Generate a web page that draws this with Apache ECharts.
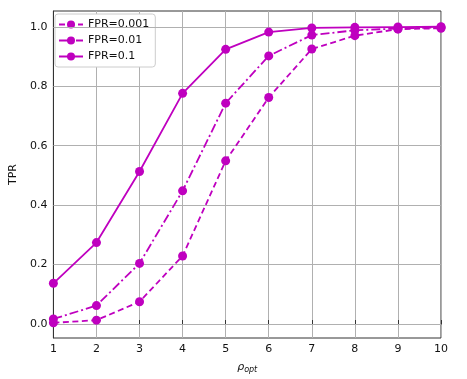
<!DOCTYPE html>
<html><head><meta charset="utf-8">
<script src="https://cdn.jsdelivr.net/npm/echarts@6/dist/echarts.min.js"></script>
<style>html,body{margin:0;padding:0;background:#fff}#c{width:467px;height:379px}</style>
</head><body><div id="c"></div>
<script>
const xValues = [1,2,3,4,5,6,7,8,9,10];
const fpr0001 = [0.004,0.013,0.075,0.229,0.549,0.762,0.925,0.970,0.992,0.995];
const fpr001 = [0.017,0.062,0.204,0.448,0.743,0.902,0.972,0.988,0.994,0.998];
const fpr01 = [0.137,0.274,0.513,0.776,0.924,0.982,0.996,0.998,0.999,1.0];
const seriesNames = ['FPR=0.001','FPR=0.01','FPR=0.1'];
const yTicks = [0.0,0.2,0.4,0.6,0.8,1.0];
const color = '#bf00bf';
const font = 'DejaVu Sans';

function mk(name, vals, type){
  return {
    name, type:'line', data: xValues.map((x,i)=>[x, vals[i]]),
    symbol:'circle', symbolSize:9, color,
    itemStyle:{color},
    lineStyle:{color, width:1.8, type},
    z:5
  };
}
const chart = echarts.init(document.getElementById('c'), null, {renderer:'canvas'});
const series = [
  mk(seriesNames[0], fpr0001, [6,3.5]),
  mk(seriesNames[1], fpr001, [9,3,2,3]),
  mk(seriesNames[2], fpr01, 'solid'),
  {type:'line', data:[], silent:true, z:1,
   markLine:{silent:true, symbol:'none', label:{show:false},
     lineStyle:{color:'#b0b0b0', type:'solid', width:1},
     data: yTicks.map(v=>({yAxis:v}))}}
];
chart.setOption({
  animation:false,
  textStyle:{fontFamily:font},
  grid:{left:52, right:26, top:11, bottom:34, show:true, borderColor:'#333', borderWidth:1, backgroundColor:'transparent'},
  legend:{
    data: seriesNames, orient:'vertical', left:55, top:14,
    backgroundColor:'#fff', borderColor:'#ccc', borderWidth:1, borderRadius:3,
    padding:[5,6,5,3], itemGap:5, itemWidth:24, itemHeight:10,
    textStyle:{fontFamily:font, fontSize:11, color:'#111'}
  },
  xAxis:{
    type:'value', min:1, max:10, interval:1,
    axisLine:{lineStyle:{color:'#333'}},
    axisTick:{inside:true, length:4, lineStyle:{color:'#333'}},
    axisLabel:{color:'#111', fontSize:11, fontFamily:font, margin:6},
    splitLine:{show:true, lineStyle:{color:'#b0b0b0', width:1}},
    name:'{a|ρ}{b|opt}', nameLocation:'middle', nameGap:22,
    nameTextStyle:{rich:{a:{fontSize:11, fontFamily:font, color:'#111', fontStyle:'italic'}, b:{fontSize:8, fontFamily:font, color:'#111', fontStyle:'italic', padding:[6,0,0,0]}}}
  },
  yAxis:{
    type:'value', min:-0.047, max:1.053,
    axisLine:{show:true, lineStyle:{color:'#333'}},
    axisTick:{show:true, inside:true, length:4, lineStyle:{color:'#333'}, customValues: yTicks},
    axisLabel:{color:'#111', fontSize:11, fontFamily:font, margin:6, customValues: yTicks, formatter:v=>v.toFixed(1)},
    splitLine:{show:false},
    name:'TPR', nameLocation:'middle', nameGap:23, nameRotate:90,
    nameTextStyle:{fontSize:11, fontFamily:font, color:'#111'}
  },
  series
});
</script></body></html>
